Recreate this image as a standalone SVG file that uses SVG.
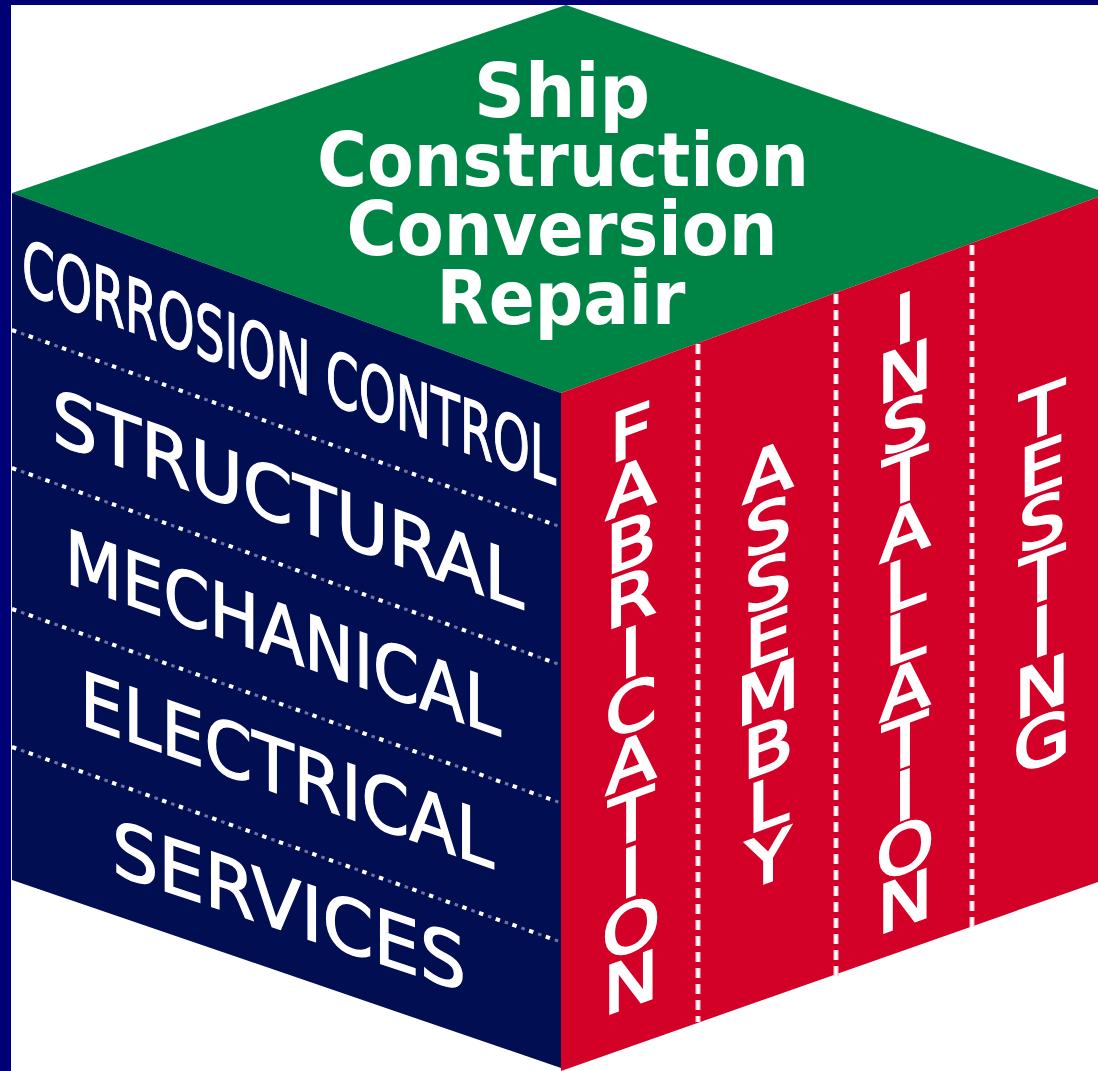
<svg xmlns="http://www.w3.org/2000/svg" width="1098" height="1071" viewBox="0 0 1098 1071">
<style>
.top{font-family:"DejaVu Sans","Liberation Sans",sans-serif;font-weight:bold;font-size:74px;fill:#fff;text-anchor:middle}
.lf{font-family:"DejaVu Sans","Liberation Sans",sans-serif;font-size:75px;fill:#fff;stroke:#fff;stroke-width:1.4}
.rf{font-family:"DejaVu Sans","Liberation Sans",sans-serif;font-size:66px;fill:#fff;stroke:#fff;stroke-width:2.2;text-anchor:middle}
.dotb{stroke:#fff;stroke-width:4;stroke-dasharray:4.5 13.2;fill:none}
.dotd{stroke:#c8cce0;stroke-width:3;stroke-dasharray:3.5 14.2;stroke-dashoffset:-9.6;fill:none;opacity:.55}
.dash{stroke:#f6c6d2;stroke-width:5;stroke-dasharray:10 6;fill:none}
.dashc{stroke:#fff;stroke-width:2.5;stroke-dasharray:10 6;fill:none}
</style>
<rect x="0" y="0" width="1098" height="1071" fill="#fff"/>
<rect x="0" y="0" width="1098" height="5" fill="#000076"/>
<rect x="0" y="0" width="11" height="1071" fill="#000076"/>

<g id="top-face">
<polygon points="12,193 566,5 1098,190 1098,197 561,393" fill="#008446"/>
<text class="top" x="562" y="117" textLength="176" lengthAdjust="spacingAndGlyphs">Ship</text>
<text class="top" x="563" y="186" textLength="492" lengthAdjust="spacingAndGlyphs">Construction</text>
<text class="top" x="562" y="255" textLength="431" lengthAdjust="spacingAndGlyphs">Conversion</text>
<text class="top" x="561" y="324" textLength="249" lengthAdjust="spacingAndGlyphs">Repair</text>
</g>

<g id="left-face">
<polygon points="12,193 561,393 561,1068 12,880" fill="#020e52"/>
</g>

<g id="right-face">
<polygon points="561,393 1098,197 1098,882 561,1071" fill="#d30028"/>
</g>

<g id="connectors">
<line class="dotb" x1="12" y1="330" x2="561" y2="527"/>
<line class="dotd" x1="12" y1="330" x2="561" y2="527"/>
<line class="dotb" x1="12" y1="468" x2="561" y2="665"/>
<line class="dotd" x1="12" y1="468" x2="561" y2="665"/>
<line class="dotb" x1="12" y1="609" x2="561" y2="803"/>
<line class="dotd" x1="12" y1="609" x2="561" y2="803"/>
<line class="dotb" x1="12" y1="747" x2="561" y2="942"/>
<line class="dotd" x1="12" y1="747" x2="561" y2="942"/>
<line class="dash" x1="698" y1="344" x2="698" y2="1022"/>
<line class="dashc" x1="698" y1="344" x2="698" y2="1022"/>
<line class="dash" x1="836" y1="294" x2="836" y2="977"/>
<line class="dashc" x1="836" y1="294" x2="836" y2="977"/>
<line class="dash" x1="972" y1="245" x2="972" y2="928"/>
<line class="dashc" x1="972" y1="245" x2="972" y2="928"/>
</g>

<g id="corrosion-control" transform="translate(22,292) skewY(19.9)">
<text class="lf" x="0" y="0" font-size="68" textLength="534" lengthAdjust="spacingAndGlyphs">CORROSION CONTROL</text>
</g>
<g id="structural" transform="translate(52,442) skewY(19.55)">
<text class="lf" x="0" y="0" textLength="472" lengthAdjust="spacingAndGlyphs">STRUCTURAL</text>
</g>
<g id="mechanical" transform="translate(65,582) skewY(19.5)">
<text class="lf" x="0" y="0" font-size="72" textLength="436" lengthAdjust="spacingAndGlyphs">MECHANICAL</text>
</g>
<g id="electrical" transform="translate(80,724) skewY(19.3)">
<text class="lf" x="0" y="0" font-size="72" textLength="414" lengthAdjust="spacingAndGlyphs">ELECTRICAL</text>
</g>
<g id="services" transform="translate(112,873) skewY(18.6)">
<text class="lf" x="0" y="0" textLength="354" lengthAdjust="spacingAndGlyphs">SERVICES</text>
</g>

<g id="fabrication">
<text class="rf" transform="translate(631,456) skewY(-20.3) scale(1.12,1)">F</text>
<text class="rf" transform="translate(631,511) skewY(-20.3) scale(1.12,1)">A</text>
<text class="rf" transform="translate(631,566) skewY(-20.3) scale(1.12,1)">B</text>
<text class="rf" transform="translate(631,621) skewY(-20.3) scale(1.12,1)">R</text>
<text class="rf" transform="translate(631,676) skewY(-20.3) scale(1.12,1)">I</text>
<text class="rf" transform="translate(631,731) skewY(-20.3) scale(1.12,1)">C</text>
<text class="rf" transform="translate(631,786) skewY(-20.3) scale(1.12,1)">A</text>
<text class="rf" transform="translate(631,841) skewY(-20.3) scale(1.12,1)">T</text>
<text class="rf" transform="translate(631,896) skewY(-20.3) scale(1.12,1)">I</text>
<text class="rf" transform="translate(631,951) skewY(-20.3) scale(1.12,1)">O</text>
<text class="rf" transform="translate(631,1006) skewY(-20.3) scale(1.12,1)">N</text>
</g>
<g id="assembly">
<text class="rf" transform="translate(768,495) skewY(-20.3) scale(1.12,1)">A</text>
<text class="rf" transform="translate(768,550) skewY(-20.3) scale(1.12,1)">S</text>
<text class="rf" transform="translate(768,606) skewY(-20.3) scale(1.12,1)">S</text>
<text class="rf" transform="translate(768,661) skewY(-20.3) scale(1.12,1)">E</text>
<text class="rf" transform="translate(768,716) skewY(-20.3) scale(1.12,1)">M</text>
<text class="rf" transform="translate(768,771) skewY(-20.3) scale(1.12,1)">B</text>
<text class="rf" transform="translate(768,827) skewY(-20.3) scale(1.12,1)">L</text>
<text class="rf" transform="translate(768,882) skewY(-20.3) scale(1.12,1)">Y</text>
</g>
<g id="installation">
<text class="rf" font-size="64" transform="translate(905,342) skewY(-20.3) scale(1.12,1)">I</text>
<text class="rf" font-size="64" transform="translate(905,395) skewY(-20.3) scale(1.12,1)">N</text>
<text class="rf" font-size="64" transform="translate(905,448) skewY(-20.3) scale(1.12,1)">S</text>
<text class="rf" font-size="64" transform="translate(905,501) skewY(-20.3) scale(1.12,1)">T</text>
<text class="rf" font-size="64" transform="translate(905,554) skewY(-20.3) scale(1.12,1)">A</text>
<text class="rf" font-size="64" transform="translate(905,607) skewY(-20.3) scale(1.12,1)">L</text>
<text class="rf" font-size="64" transform="translate(905,660) skewY(-20.3) scale(1.12,1)">L</text>
<text class="rf" font-size="64" transform="translate(905,713) skewY(-20.3) scale(1.12,1)">A</text>
<text class="rf" font-size="64" transform="translate(905,766) skewY(-20.3) scale(1.12,1)">T</text>
<text class="rf" font-size="64" transform="translate(905,819) skewY(-20.3) scale(1.12,1)">I</text>
<text class="rf" font-size="64" transform="translate(905,872) skewY(-20.3) scale(1.12,1)">O</text>
<text class="rf" font-size="64" transform="translate(905,925) skewY(-20.3) scale(1.12,1)">N</text>
</g>
<g id="testing">
<text class="rf" transform="translate(1042,435) skewY(-20.3) scale(1.12,1)">T</text>
<text class="rf" transform="translate(1042,490) skewY(-20.3) scale(1.12,1)">E</text>
<text class="rf" transform="translate(1042,545) skewY(-20.3) scale(1.12,1)">S</text>
<text class="rf" transform="translate(1042,600) skewY(-20.3) scale(1.12,1)">T</text>
<text class="rf" transform="translate(1042,655) skewY(-20.3) scale(1.12,1)">I</text>
<text class="rf" transform="translate(1042,710) skewY(-20.3) scale(1.12,1)">N</text>
<text class="rf" transform="translate(1042,765) skewY(-20.3) scale(1.12,1)">G</text>
</g>
</svg>
